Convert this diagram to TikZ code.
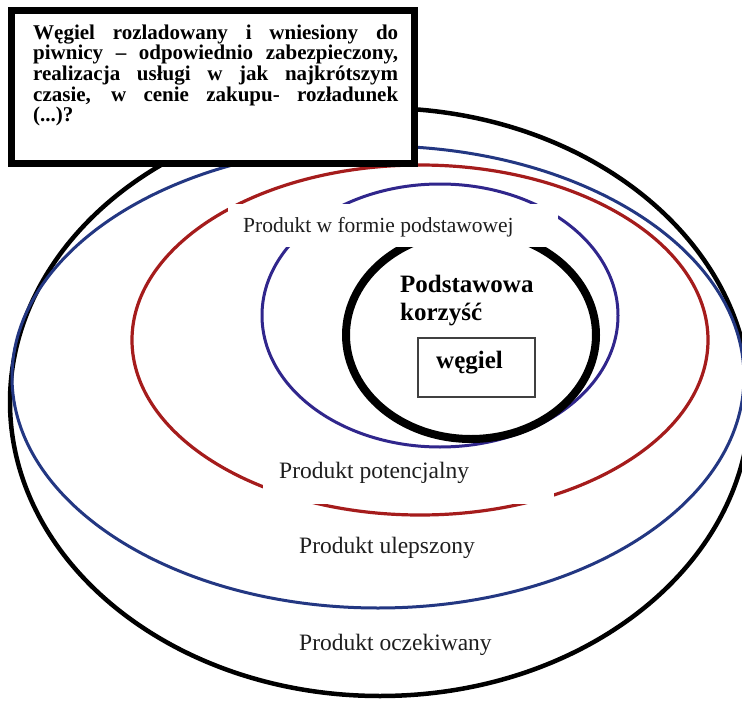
\documentclass[tikz,border=0pt]{standalone}
\usepackage{fontspec}
\setmainfont{Liberation Serif}
\definecolor{ringred}{RGB}{165,28,28}
\definecolor{ringblueout}{RGB}{35,55,130}
\definecolor{ringbluein}{RGB}{48,38,140}
\definecolor{txtgray}{RGB}{30,30,30}
\tikzset{
  ring/.style={line width=#1},
  lbl/.style={inner sep=0pt, anchor=base west, text=txtgray, font=\fontsize{23.5}{28}\selectfont},
  lblbold/.style={inner sep=0pt, anchor=base west, text=black, font=\bfseries\fontsize{25}{28}\selectfont},
  boxline/.style={inner sep=0pt, anchor=base west, text=black, font=\bfseries\fontsize{21}{20.6}\selectfont},
  mask/.style={fill=white, draw=none}
}
\begin{document}
\begin{tikzpicture}[x=1pt,y=-1pt]
\useasboundingbox (0,0) rectangle (742,701);
\fill[white] (0,0) rectangle (742,701);

% rings
\draw[ring=4.5pt, black] (380,402) ellipse [x radius=370pt, y radius=294pt];
\draw[ring=3pt, ringblueout] (378,377) ellipse [x radius=366pt, y radius=231pt];
\draw[ring=3.2pt, ringred] (420,340) ellipse [x radius=288pt, y radius=175pt];
\draw[ring=3pt, ringbluein] (440,315.5) ellipse [x radius=178pt, y radius=131.5pt];
\draw[ring=8pt, black] (471,335) ellipse [x radius=125pt, y radius=104pt];

% white label masks
\path[mask] (228,204) rectangle (558,247);
\path[mask] (263,450) rectangle (554,504);

% labels
\node[lbl, font=\fontsize{21.5}{26}\selectfont] (forma) at (243,232) {Produkt w formie podstawowej};
\node[lblbold] (korz1) at (400,292) {Podstawowa};
\node[lblbold] (korz2) at (400,320) {korzyść};
\draw[line width=1.2pt, black!75] (418,338) rectangle (535,397);
\node[lblbold] (wegiel) at (436,368) {węgiel};
\node[lbl] (potenc) at (279,478) {Produkt potencjalny};
\node[lbl] (ulep) at (299,553) {Produkt ulepszony};
\node[lbl] (oczek) at (299,650) {Produkt oczekiwany};

% top text box
\draw[line width=7pt, black, fill=white] (11.5,10.5) rectangle (414.5,163.5);
\node[boxline] (t1) at (33,39.3) {\makebox[365pt][s]{Węgiel rozladowany i wniesiony do}};
\node[boxline] (t2) at (33,59.9) {\makebox[365pt][s]{piwnicy – odpowiednio zabezpieczony,}};
\node[boxline] (t3) at (33,80.5) {\makebox[365pt][s]{realizacja usługi w jak najkrótszym}};
\node[boxline] (t4) at (33,101.1) {\makebox[365pt][s]{czasie, w cenie zakupu- rozładunek}};
\node[boxline] (t5) at (33,121.7) {(...)?};
\end{tikzpicture}
\end{document}
